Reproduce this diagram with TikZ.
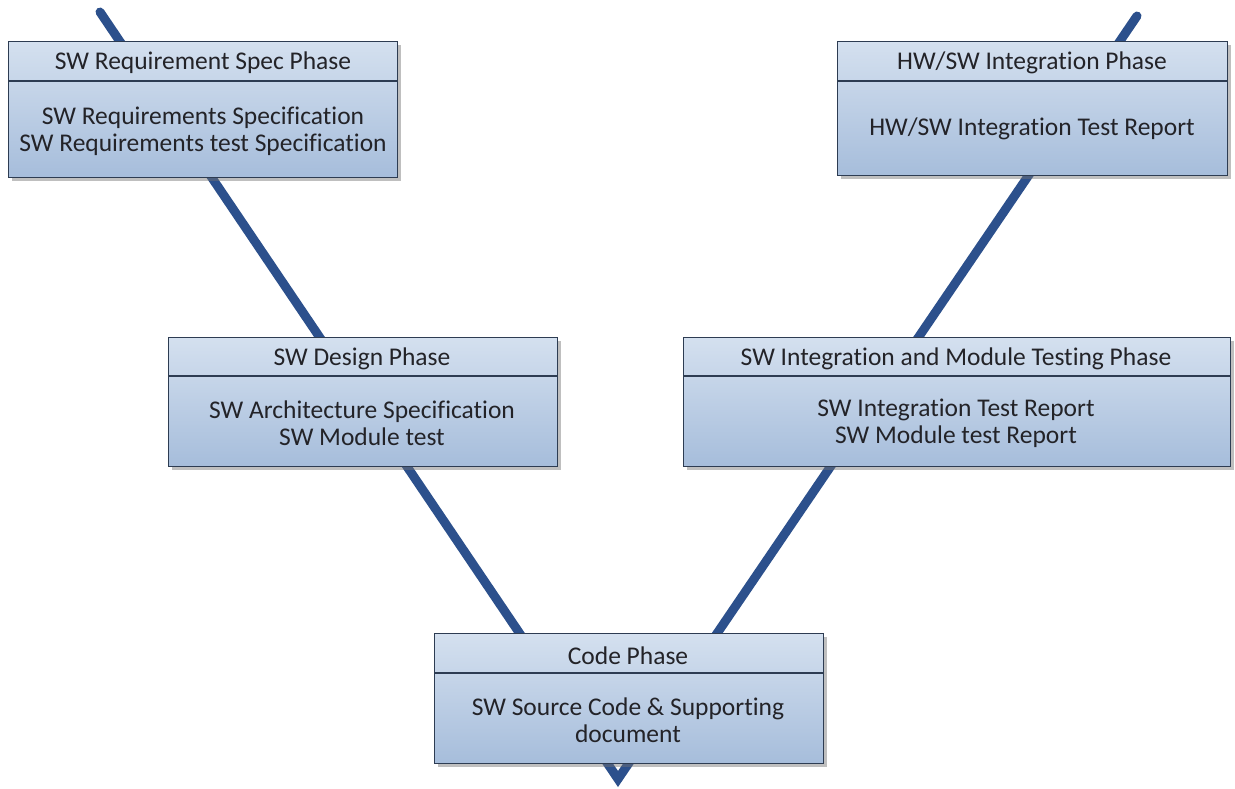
\documentclass[tikz,border=0pt]{standalone}
\usepackage{fontspec}
\setmainfont{Carlito}[Ligatures=NoCommon]
\usetikzlibrary{shadows}
\definecolor{vline}{RGB}{44,80,140}
\definecolor{boxtop}{RGB}{212,224,239}
\definecolor{boxbot}{RGB}{166,189,219}
\definecolor{boxedge}{RGB}{45,60,82}
\definecolor{txt}{RGB}{35,35,40}
\tikzset{
  phasebox/.style={draw=boxedge, line width=1.2pt, top color=boxtop, bottom color=boxbot,
    anchor=north west, inner sep=0pt,
    drop shadow={shadow xshift=3pt, shadow yshift=-3pt, opacity=0.45, fill=black!55}},
  headtxt/.style={font=\fontsize{25.5}{27}\selectfont, text=txt, inner sep=0pt},
  bodytxt/.style={font=\fontsize{25.5}{27}\selectfont, text=txt, inner sep=0pt, align=center},
  divider/.style={draw=boxedge, line width=1.2pt},
  vee/.style={draw=vline, line width=9pt, line cap=round, line join=miter}
}
\begin{document}
\begin{tikzpicture}[x=1pt,y=-1pt]
\useasboundingbox (0,0) rectangle (1235,789);
\fill[white] (0,0) rectangle (1235,789);
% V line
\coordinate (topL) at (100,12);
\coordinate (vtx) at (618,779);
\coordinate (topR) at (1137,16);
\draw[vee] (topL) -- (vtx) -- (topR);
% Box 1
\node[phasebox, minimum width=389pt, minimum height=136pt] (b1) at (8,41) {};
\draw[divider] (8,81) -- (397,81);
\node[headtxt] (h1) at (203,63) {SW Requirement Spec Phase};
\node[bodytxt] (t1) at (203,131) {SW Requirements Specification\\SW Requirements test Specification};
% Box 2
\node[phasebox, minimum width=390pt, minimum height=134pt] (b2) at (837,41) {};
\draw[divider] (837,81) -- (1227,81);
\node[headtxt] (h2) at (1032,63) {HW/SW Integration Phase};
\node[bodytxt] (t2) at (1032,129) {HW/SW Integration Test Report};
% Box 3
\node[phasebox, minimum width=389pt, minimum height=129pt] (b3) at (168,337) {};
\draw[divider] (168,376) -- (557,376);
\node[headtxt] (h3) at (362,359) {SW Design Phase};
\node[bodytxt] (t3) at (362,423) {SW Architecture Specification\\SW Module test};
% Box 4
\node[phasebox, minimum width=547pt, minimum height=129pt] (b4) at (683,337) {};
\draw[divider] (683,376) -- (1230,376);
\node[headtxt] (h4) at (956,359) {SW Integration and Module Testing Phase};
\node[bodytxt] (t4) at (956,423) {SW Integration Test Report\\SW Module test Report};
% Box 5
\node[phasebox, minimum width=389pt, minimum height=130pt] (b5) at (434,633) {};
\draw[divider] (434,673) -- (823,673);
\node[headtxt] (h5) at (628,656) {Code Phase};
\node[bodytxt] (t5) at (628,720) {SW Source Code \& Supporting\\document};
\end{tikzpicture}
\end{document}
